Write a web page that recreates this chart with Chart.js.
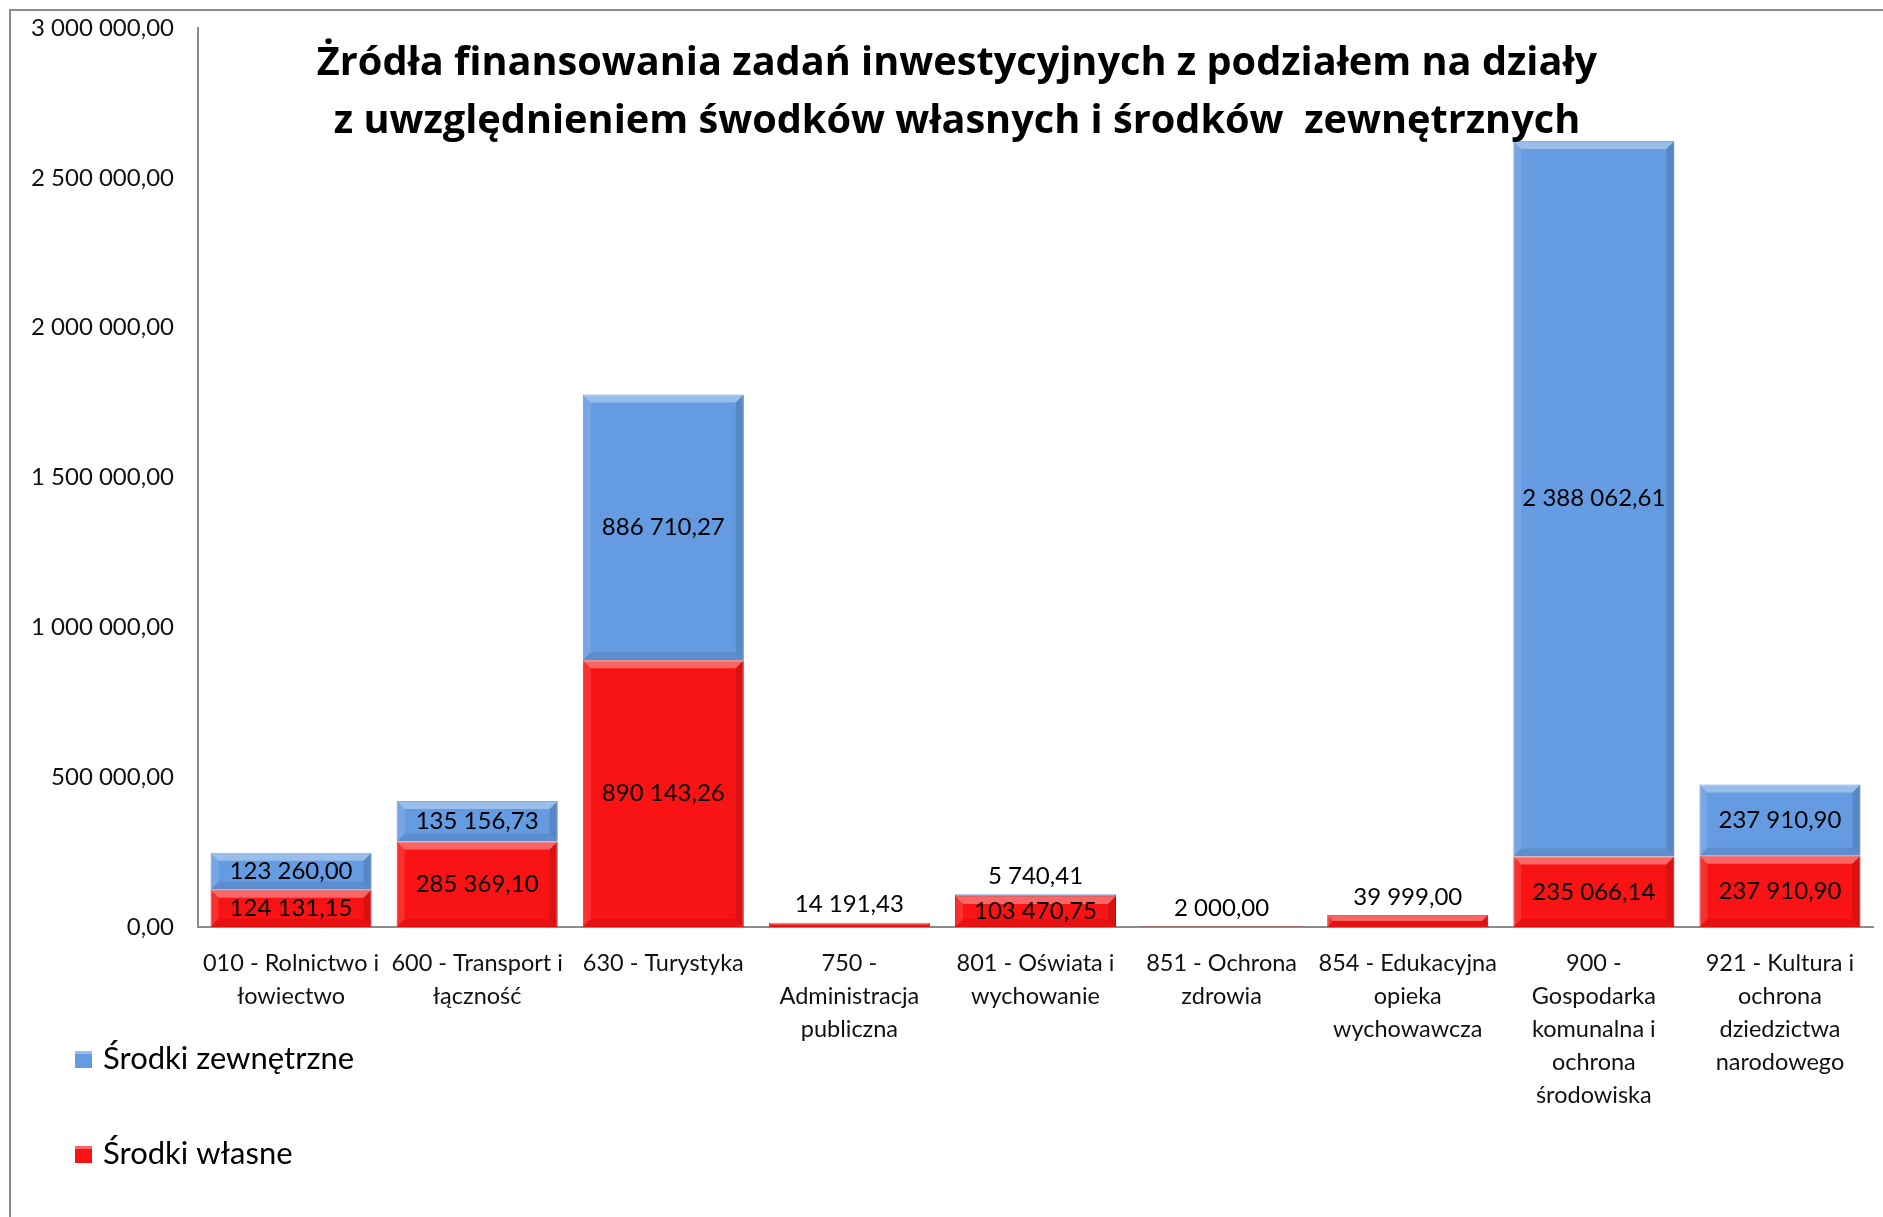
<!DOCTYPE html>
<html>
<head>
<meta charset="utf-8">
<script src="https://cdn.jsdelivr.net/npm/chart.js@4/dist/chart.umd.min.js"></script>
<style>
  html, body { margin: 0; padding: 0; background: #fff; }
  #wrap { position: relative; width: 1883px; height: 1217px; }
  #frame { position: absolute; left: 9px; top: 9px; right: 0; bottom: 0;
           border-left: 2px solid #8c8c8c; border-top: 2px solid #8c8c8c; pointer-events: none; }
</style>
</head>
<body>
<div id="wrap">
  <canvas id="chart" width="1883" height="1217"></canvas>
  <div id="frame"></div>
</div>
<script>
// Dane z wykresu
const categories = [
    ['010 - Rolnictwo i', 'łowiectwo'],
    ['600 - Transport i', 'łączność'],
    ['630 - Turystyka'],
    ['750 -', 'Administracja', 'publiczna'],
    ['801 - Oświata i', 'wychowanie'],
    ['851 - Ochrona', 'zdrowia'],
    ['854 - Edukacyjna', 'opieka', 'wychowawcza'],
    ['900 -', 'Gospodarka', 'komunalna i', 'ochrona', 'środowiska'],
    ['921 - Kultura i', 'ochrona', 'dziedzictwa', 'narodowego']
];
const srodkiWlasne = [124131.15, 285369.10, 890143.26, 14191.43, 103470.75, 2000.00, 39999.00, 235066.14, 237910.90];
const srodkiZewnetrzne = [123260.00, 135156.73, 886710.27, 0, 5740.41, 0, 0, 2388062.61, 237910.90];
const yMax = 3000000;
const yStep = 500000;
const titleLines = [
    'Żródła finansowania zadań inwestycyjnych z podziałem na działy',
    'z uwzględnieniem śwodków własnych i środków  zewnętrznych'
];

const FONT = 'Lato, "Open Sans", sans-serif';
const TITLE_FONT = '"Open Sans", Lato, sans-serif';
const red = '#f81414';
const blue = '#649be1';

// 3 000 000,00
const fmt = (v) => {
    const parts = Number(v).toFixed(2).split('.');
    return parts[0].replace(/\B(?=(\d{3})+(?!\d))/g, ' ') + ',' + parts[1];
};

// Excel-like bevel on every bar
const bevelPlugin = {
    id: 'bevel',
    afterDatasetsDraw(chart) {
        const ctx = chart.ctx;
        chart.data.datasets.forEach((ds, di) => {
            chart.getDatasetMeta(di).data.forEach((bar) => {
                const h = bar.base - bar.y;
                if (h < 1) return;
                const l = bar.x - bar.width / 2, r = bar.x + bar.width / 2;
                const t = bar.y, b = bar.base;
                const e = Math.min(8, h / 2);
                ctx.save();
                ctx.fillStyle = 'rgba(255,255,255,0.35)';
                ctx.beginPath();
                ctx.moveTo(l, t); ctx.lineTo(r, t); ctx.lineTo(r - e, t + e); ctx.lineTo(l + e, t + e);
                ctx.closePath(); ctx.fill();
                ctx.fillStyle = 'rgba(0,0,0,0.12)';
                ctx.beginPath();
                ctx.moveTo(r, t); ctx.lineTo(r, b); ctx.lineTo(r - e, b - e); ctx.lineTo(r - e, t + e);
                ctx.closePath(); ctx.fill();
                ctx.fillStyle = 'rgba(0,0,0,0.08)';
                ctx.beginPath();
                ctx.moveTo(l, b); ctx.lineTo(r, b); ctx.lineTo(r - e, b - e); ctx.lineTo(l + e, b - e);
                ctx.closePath(); ctx.fill();
                ctx.fillStyle = 'rgba(255,255,255,0.12)';
                ctx.beginPath();
                ctx.moveTo(l, t); ctx.lineTo(l + e, t + e); ctx.lineTo(l + e, b - e); ctx.lineTo(l, b);
                ctx.closePath(); ctx.fill();
                ctx.restore();
            });
        });
    }
};

// value labels: centered in segment, or above the stack when the segment is too thin
const valueLabels = {
    id: 'valueLabels',
    afterDatasetsDraw(chart) {
        const ctx = chart.ctx;
        ctx.save();
        ctx.font = '24px ' + FONT;
        ctx.fillStyle = '#000';
        ctx.textAlign = 'center';
        ctx.textBaseline = 'middle';
        const metas = chart.data.datasets.map((d, i) => chart.getDatasetMeta(i));
        chart.data.datasets.forEach((ds, di) => {
            metas[di].data.forEach((bar, i) => {
                const v = ds.data[i];
                if (!v) return;
                const h = bar.base - bar.y;
                if (h >= 28) {
                    ctx.fillText(fmt(v), bar.x, (bar.y + bar.base) / 2);
                } else {
                    const top = Math.min(...metas.map(m => m.data[i].y));
                    ctx.fillText(fmt(v), bar.x, top - 18);
                }
            });
        });
        ctx.restore();
    }
};

const titleLegend = {
    id: 'titleLegend',
    afterDraw(chart) {
        const ctx = chart.ctx;
        ctx.save();
        ctx.fillStyle = '#000';
        ctx.textAlign = 'center';
        ctx.textBaseline = 'middle';
        // title sized so the first line spans about 1282px
        ctx.font = 'bold 36px ' + TITLE_FONT;
        const w = ctx.measureText(titleLines[0]).width;
        const size = Math.round(36 * 1282 / w * 10) / 10;
        ctx.font = 'bold ' + size + 'px ' + TITLE_FONT;
        ctx.fillText(titleLines[0], 957, 64);
        ctx.fillText(titleLines[1], 957, 122);

        // legend, vertical at bottom left
        const items = [
            { label: chart.data.datasets[1].label, color: blue, y: 1059 },
            { label: chart.data.datasets[0].label, color: red, y: 1154 }
        ];
        ctx.font = '31px ' + FONT;
        ctx.textAlign = 'left';
        items.forEach(it => {
            ctx.fillStyle = it.color;
            ctx.fillRect(75, it.y - 8, 17, 17);
            ctx.fillStyle = 'rgba(255,255,255,0.35)';
            ctx.fillRect(75, it.y - 8, 17, 3);
            ctx.fillStyle = '#000';
            ctx.fillText(it.label, 103, it.y);
        });
        ctx.restore();
    }
};

const ctx = document.getElementById('chart').getContext('2d');
new Chart(ctx, {
    type: 'bar',
    data: {
        labels: categories,
        datasets: [
            {
                label: 'Środki własne',
                data: srodkiWlasne,
                backgroundColor: red,
                borderColor: '#c81010',
                borderWidth: 1
            },
            {
                label: 'Środki zewnętrzne',
                data: srodkiZewnetrzne,
                backgroundColor: blue,
                borderColor: '#4f7fbf',
                borderWidth: 1
            }
        ]
    },
    options: {
        responsive: false,
        animation: false,
        layout: { padding: { top: 28, right: 10, left: 0, bottom: 0 } },
        plugins: {
            legend: { display: false },
            title: { display: false },
            tooltip: { enabled: false }
        },
        datasets: { bar: { categoryPercentage: 1, barPercentage: 0.865 } },
        scales: {
            x: {
                stacked: true,
                grid: { display: false, drawTicks: false },
                border: { color: '#8c8c8c', width: 2 },
                ticks: {
                    color: '#111',
                    font: { family: FONT, size: 23.5, lineHeight: 1.4 },
                    padding: 20,
                    maxRotation: 0,
                    autoSkip: false
                },
                afterFit: (s) => { s.height = 290; }
            },
            y: {
                stacked: true,
                min: 0,
                max: yMax,
                grid: { display: false, drawTicks: false },
                border: { color: '#8c8c8c', width: 2 },
                ticks: {
                    stepSize: yStep,
                    color: '#111',
                    font: { family: FONT, size: 24 },
                    padding: 24,
                    callback: (v) => fmt(v)
                },
                afterFit: (s) => {
                    s.width = 198;
                    s.paddingTop = 0;
                    s.paddingBottom = 0;
                }
            }
        }
    },
    plugins: [bevelPlugin, valueLabels, titleLegend]
});
</script>
</body>
</html>
